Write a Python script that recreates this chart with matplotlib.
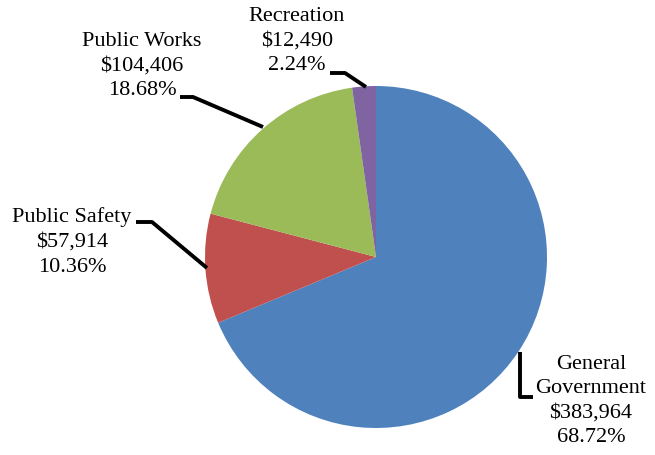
import matplotlib
matplotlib.use("Agg")
import matplotlib.pyplot as plt

names = ["General\nGovernment", "Public Safety", "Public Works", "Recreation"]
amounts = [383964, 57914, 104406, 12490]
pcts = ["68.72%", "10.36%", "18.68%", "2.24%"]
colors = ["#4F81BD", "#C0504D", "#9BBB59", "#8064A2"]

W, H = 655, 455
cx, cy, R = 376, 257, 171

fig = plt.figure(figsize=(W / 100, H / 100), dpi=100)
ax = fig.add_axes([(cx - R) / W, (H - cy - R) / H, 2 * R / W, 2 * R / H])
ax.pie(amounts, colors=colors, startangle=90, counterclock=False, radius=1,
       wedgeprops=dict(linewidth=0))
ax.set_xlim(-1, 1)
ax.set_ylim(-1, 1)
ax.set_aspect("equal")
ax.axis("off")


def d(px, py):
    return (px - cx) / R, (cy - py) / R


# label text centre (pixels) and leader line points (pixels)
label_pos = [(591, 401), (72, 242), (142, 66), (297, 41)]
leaders = [
    [(533, 397), (520, 397), (520, 352)],
    [(136, 222), (152, 222), (207, 268)],
    [(180, 97), (193, 97), (263, 127)],
    [(330, 73), (345, 73), (366, 87)],
]

for name, amt, pct, pos, pts in zip(names, amounts, pcts, label_pos, leaders):
    txt = f"{name}\n${amt:,}\n{pct}"
    x, y = d(*pos)
    ax.text(x, y, txt, ha="center", va="center", family="Liberation Serif",
            fontsize=16, linespacing=1.4, clip_on=False)
    xs, ys = zip(*[d(*p) for p in pts])
    ax.plot(xs, ys, color="black", lw=2.8, clip_on=False, solid_capstyle="butt")

fig.savefig("out.png", dpi=100)
